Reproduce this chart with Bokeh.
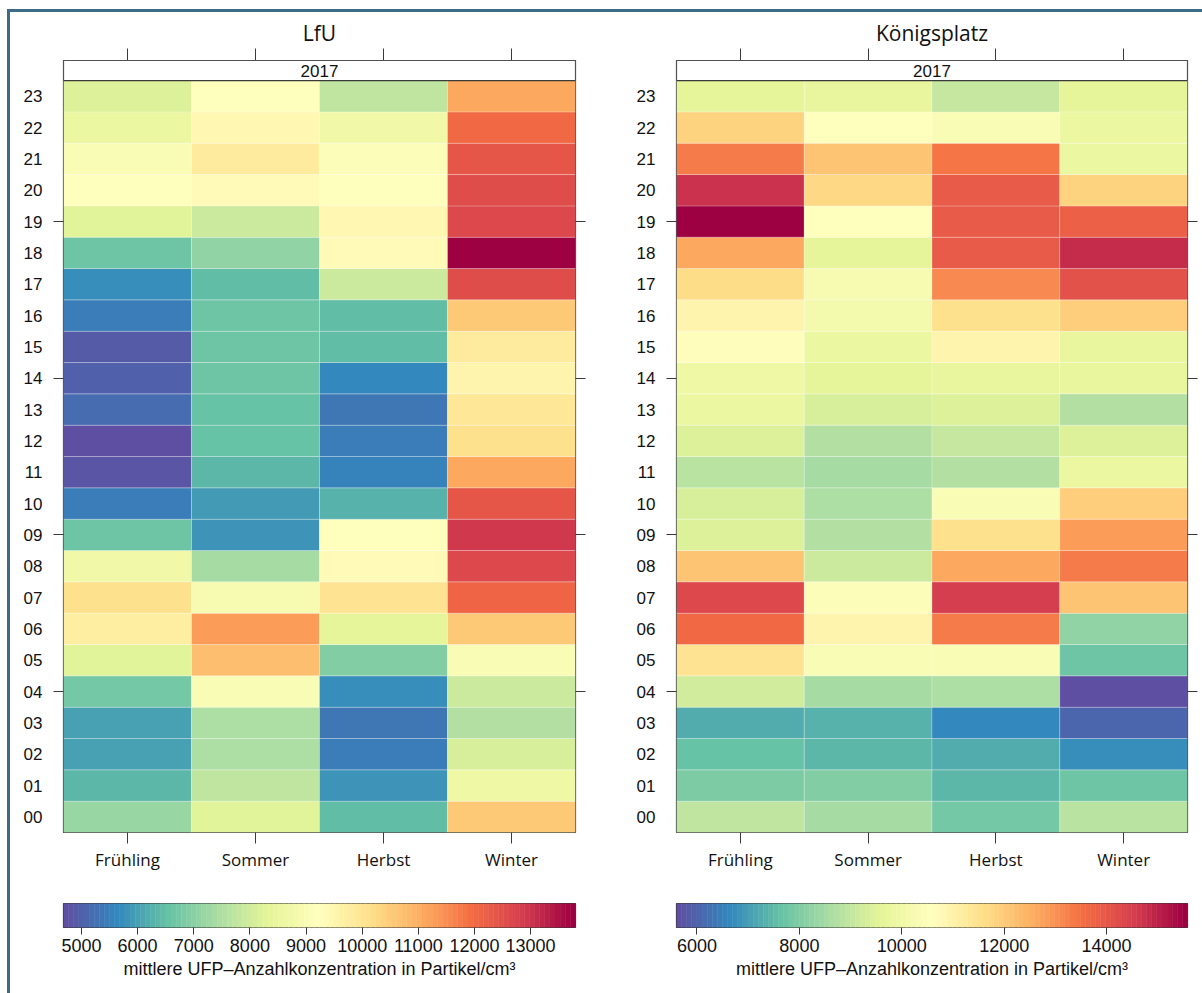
import numpy as np
from bokeh.plotting import figure
from bokeh.models import (ColumnDataSource, LinearColorMapper, FixedTicker,
                          LinearAxis, Range1d)
from bokeh.layouts import row, column
from bokeh.palettes import Spectral11
from bokeh.core.properties import value
from bokeh.embed import file_html
from bokeh.resources import INLINE

# ---------------------------------------------------------------- data
seasons = ["Frühling", "Sommer", "Herbst", "Winter"]
hours = [f"{h:02d}" for h in range(24)]
year = "2017"
hour_ticks = [4, 9, 14, 19]

# mean UFP number concentration (particles/cm³), hour 00 .. 23
lfu_fruehling = [7200, 6350, 6000, 6000, 6700, 8300, 9700, 10150, 8750, 6650, 5450, 4780,
                 4680, 5150, 5000, 4950, 5450, 5750, 6650, 8300, 9150, 9000, 8600, 8200]
lfu_sommer = [8300, 7700, 7500, 7500, 9000, 10750, 11300, 8900, 7350, 5800, 5950, 6350,
              6520, 6550, 6650, 6650, 6600, 6450, 7100, 7950, 9400, 9800, 9500, 9200]
lfu_herbst = [6450, 5800, 5500, 5400, 5750, 6900, 8400, 10000, 9350, 9200, 6300, 5550,
              5450, 5400, 5600, 6500, 6450, 7900, 9400, 9500, 9200, 9100, 8700, 7700]
lfu_winter = [10600, 8650, 8100, 7550, 7900, 9000, 10600, 12150, 12650, 12900, 12350, 11100,
              10150, 9900, 9600, 9800, 10600, 12600, 13800, 12700, 12600, 12400, 12050, 11100]

kp_fruehling = [8900, 7900, 7600, 7250, 9200, 11450, 13650, 14300, 12100, 9400, 9300, 8800,
                9400, 9850, 9900, 10600, 10900, 11650, 12600, 15580, 14700, 13300, 11800, 9600]
kp_sommer = [8500, 8000, 7450, 7300, 8500, 10350, 10950, 10400, 9150, 8700, 8600, 8500,
             8750, 9300, 9600, 9850, 10100, 10200, 9600, 10500, 11700, 12100, 10500, 9700]
kp_herbst = [7850, 7400, 7250, 6650, 8600, 10300, 13300, 14500, 12600, 11500, 10350, 8700,
             9000, 9450, 9750, 10900, 11500, 13100, 13900, 13950, 13900, 13400, 10300, 9000]
kp_winter = [8800, 7750, 6750, 6000, 5600, 7750, 8250, 12100, 13300, 12800, 11900, 9850,
             9450, 8750, 9750, 9750, 11900, 14100, 14800, 13800, 11850, 9850, 9850, 9600]

lfu_key_ticks = [5000, 6000, 7000, 8000, 9000, 10000, 11000, 12000, 13000]
kp_key_ticks = [6000, 8000, 10000, 12000, 14000]

key_title = "mittlere UFP\u2013Anzahlkonzentration in Partikel/cm³"

# ---------------------------------------------------------------- styling
FRAME = "#3d6a85"
AXIS = "#3a3a3a"
SANS = "Liberation Sans"
LABEL_FONT = "Open Sans"


def spectral_ramp(n):
    """Spectral palette (blue -> red) stretched to n colours."""
    rgb = np.array([[int(c[i:i + 2], 16) for i in (1, 3, 5)] for c in Spectral11], float)
    pos = np.linspace(0, 1, len(rgb))
    t = np.linspace(0, 1, n)
    out = np.stack([np.interp(t, pos, rgb[:, k]) for k in range(3)], axis=1)
    return ["#%02x%02x%02x" % tuple(int(round(v)) for v in c) for c in out]


PALETTE = spectral_ramp(100)


def tick_only_axis(ticks, tick_out):
    """Axis that draws tick marks but no labels."""
    ax = LinearAxis(ticker=FixedTicker(ticks=ticks),
                    major_label_overrides={t: "" for t in ticks})
    ax.major_tick_out = tick_out
    ax.major_tick_in = 0
    ax.major_label_standoff = 0
    ax.axis_line_color = None
    ax.major_tick_line_color = AXIS
    ax.minor_tick_line_color = None
    return ax


def heat_panel(title, columns, width, b_left, b_right):
    vals = np.array(columns, float)
    lo, hi = vals.min(), vals.max()
    mapper = LinearColorMapper(palette=PALETTE, low=lo, high=hi)

    xs, ys, vs = [], [], []
    for i, col in enumerate(columns):
        for j, v in enumerate(col):
            xs.append(i)
            ys.append(j)
            vs.append(v)
    src = ColumnDataSource(dict(x=xs, y=ys, v=vs))

    n = len(hours)
    strip = 0.64  # height of the "2017" strip in row units
    p = figure(width=width, height=868, title=title,
               x_range=Range1d(-0.5, len(seasons) - 0.5),
               y_range=Range1d(-0.5, n - 0.5 + strip),
               x_axis_location=None, y_axis_location=None,
               min_border_left=b_left, min_border_right=b_right,
               min_border_top=48, min_border_bottom=48,
               output_backend="svg", toolbar_location=None)
    p.grid.visible = False
    p.outline_line_color = AXIS
    p.outline_line_width = 1.2
    p.background_fill_color = "white"
    p.border_fill_color = "white"

    p.title.text_font = LABEL_FONT
    p.title.text_font_size = "21px"
    p.title.text_font_style = "normal"
    p.title.text_color = "#111111"
    p.title.align = "center"
    p.title.standoff = 4

    p.rect(x="x", y="y", width=1, height=1, source=src,
           fill_color={"field": "v", "transform": mapper},
           line_color="white", line_alpha=0.3, line_width=0.8)

    # strip with the year
    p.quad(left=[-0.5], right=[len(seasons) - 0.5], bottom=[n - 0.5], top=[n - 0.5 + strip],
           fill_color="white", line_color=AXIS, line_width=1.2)
    p.text(x=[(len(seasons) - 1) / 2], y=[n - 0.5 + strip / 2], text=[year],
           text_align="center", text_baseline="middle",
           text_font=value(SANS), text_font_size="17px", text_color="#111111")

    season_idx = list(range(len(seasons)))

    bottom = LinearAxis(ticker=FixedTicker(ticks=season_idx),
                        major_label_overrides={i: s for i, s in enumerate(seasons)})
    bottom.major_tick_out = 11
    bottom.major_tick_in = 0
    bottom.major_label_standoff = 4
    bottom.major_label_text_font = LABEL_FONT
    bottom.major_label_text_font_size = "17px"
    bottom.major_label_text_color = "#111111"
    bottom.axis_line_color = None
    bottom.major_tick_line_color = AXIS
    bottom.minor_tick_line_color = None
    p.add_layout(bottom, "below")

    p.add_layout(tick_only_axis(season_idx, 12), "above")

    left = LinearAxis(ticker=FixedTicker(ticks=list(range(n)), minor_ticks=hour_ticks),
                      major_label_overrides={j: h for j, h in enumerate(hours)})
    left.major_tick_line_color = None
    left.major_tick_out = 0
    left.major_tick_in = 0
    left.minor_tick_out = 10
    left.minor_tick_in = 0
    left.minor_tick_line_color = AXIS
    left.major_label_standoff = 11
    left.major_label_text_font = SANS
    left.major_label_text_font_size = "17px"
    left.major_label_text_color = "#111111"
    left.axis_line_color = None
    p.add_layout(left, "left")

    p.add_layout(tick_only_axis(hour_ticks, 10), "right")
    return p, lo, hi


def color_key(lo, hi, ticks, width, b_left, b_right):
    c = figure(width=width, height=113,
               x_range=Range1d(lo, hi), y_range=Range1d(0, 1),
               x_axis_location=None, y_axis_location=None,
               min_border_left=b_left, min_border_right=b_right,
               min_border_top=23, min_border_bottom=66,
               output_backend="svg", toolbar_location=None)
    c.grid.visible = False
    c.outline_line_color = AXIS
    c.outline_line_width = 1.2
    c.border_fill_color = "white"
    edges = np.linspace(lo, hi, len(PALETTE) + 1)
    c.quad(left=edges[:-1], right=edges[1:], bottom=0, top=1,
           fill_color=PALETTE, line_color=PALETTE, line_width=0.5)

    ax = LinearAxis(ticker=FixedTicker(ticks=ticks), axis_label=key_title)
    ax.major_tick_out = 7
    ax.major_tick_in = 0
    ax.major_label_standoff = 4
    ax.major_label_text_font = SANS
    ax.major_label_text_font_size = "18px"
    ax.major_label_text_color = "#111111"
    ax.axis_label_text_font = SANS
    ax.axis_label_text_font_size = "18px"
    ax.axis_label_text_font_style = "normal"
    ax.axis_label_text_color = "#111111"
    ax.axis_label_standoff = 4
    ax.axis_line_color = None
    ax.major_tick_line_color = AXIS
    ax.minor_tick_line_color = None
    c.add_layout(ax, "below")
    return c


p_lfu, lo1, hi1 = heat_panel("LfU", [lfu_fruehling, lfu_sommer, lfu_herbst, lfu_winter],
                             590, 53, 25)
p_kp, lo2, hi2 = heat_panel("Königsplatz", [kp_fruehling, kp_sommer, kp_herbst, kp_winter],
                            602, 76, 15)
k_lfu = color_key(lo1, hi1, lfu_key_ticks, 590, 53, 25)
k_kp = color_key(lo2, hi2, kp_key_ticks, 602, 76, 15)

page = row(column(p_lfu, k_lfu), column(p_kp, k_kp),
           styles={"margin-left": "7px", "margin-top": "9px",
                   "border-left": f"3px solid {FRAME}",
                   "border-top": f"3px solid {FRAME}"})

open("out.html", "w").write(file_html(page, INLINE))
